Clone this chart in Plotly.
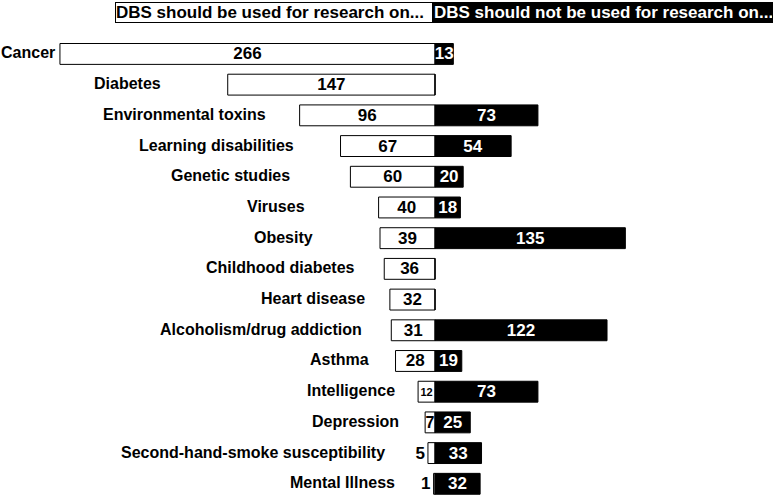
import plotly.graph_objs as go

categories = ['Cancer', 'Diabetes', 'Environmental toxins', 'Learning disabilities',
              'Genetic studies', 'Viruses', 'Obesity', 'Childhood diabetes',
              'Heart disease', 'Alcoholism/drug addiction', 'Asthma', 'Intelligence',
              'Depression', 'Second-hand-smoke susceptibility', 'Mental Illness']
should_values = [266, 147, 96, 67, 60, 40, 39, 36, 32, 31, 28, 12, 7, 5, 1]
should_not_values = [13, 0, 73, 54, 20, 18, 135, 0, 0, 122, 19, 73, 25, 33, 32]
legend_labels = ['DBS should be used for research on...',
                 'DBS should not be used for research on...']

# gap in px between a label and the left end of its white bar
label_gaps = [3, 65, 32, 45, 58, 72, 65, 27, 23, 27, 25, 21, 24, 41, 37]
# value text size for the white bars (small ones are squeezed in)
white_text_sizes = [17, 17, 17, 17, 17, 17, 17, 17, 17, 17, 17, 11, 16, 17, 17]

FONT = 'Liberation Sans'
SIZE = 16
VSIZE = 17


def build_figure():
    white_pos = ['outside' if v < 6 else 'inside' for v in should_values]
    black_text = [str(v) if v > 0 else '' for v in should_not_values]

    white = go.Bar(
        y=categories, x=[-v for v in should_values], orientation='h',
        text=[str(v) for v in should_values], textposition=white_pos,
        insidetextanchor='middle', textangle=0, constraintext='none',
        textfont=dict(family=FONT, size=white_text_sizes, color='black', weight='bold'),
        outsidetextfont=dict(family=FONT, size=VSIZE, color='black', weight='bold'),
        marker=dict(color='white', line=dict(color='black', width=1)),
        width=0.68, hoverinfo='skip', cliponaxis=False
    )
    black = go.Bar(
        y=categories, x=should_not_values, orientation='h',
        text=black_text, textposition='inside',
        insidetextanchor='middle', textangle=0, constraintext='none',
        textfont=dict(family=FONT, size=VSIZE, color='white', weight='bold'),
        marker=dict(color='black', line=dict(color='black', width=1)),
        width=0.68, hoverinfo='skip', cliponaxis=False
    )

    annotations = []
    for cat, v, gap in zip(categories, should_values, label_gaps):
        annotations.append(dict(
            x=-v, y=cat, xref='x', yref='y', text=cat, showarrow=False,
            xanchor='right', yanchor='middle', xshift=-gap, yshift=1,
            font=dict(family=FONT, size=SIZE, color='black', weight='bold')
        ))

    # legend boxes at the top
    annotations.append(dict(
        x=433 / 780, y=1.0385, xref='paper', yref='paper', text=legend_labels[0],
        showarrow=False, xanchor='right', yanchor='middle', align='left',
        width=316, height=19, bgcolor='white', bordercolor='black',
        borderwidth=1, borderpad=0,
        font=dict(family=FONT, size=VSIZE, color='black', weight='bold')
    ))
    annotations.append(dict(
        x=433 / 780, y=1.0385, xref='paper', yref='paper', text=legend_labels[1],
        showarrow=False, xanchor='left', yanchor='middle', align='left',
        width=338, height=19, bgcolor='black', bordercolor='black',
        borderwidth=1, borderpad=0,
        font=dict(family=FONT, size=VSIZE, color='white', weight='bold')
    ))

    figure = go.Figure(
        data=[white, black],
        layout=go.Layout(
            width=780, height=497,
            barmode='overlay',
            showlegend=False,
            plot_bgcolor='white', paper_bgcolor='white',
            margin=dict(l=0, r=0, t=30, b=0),
            xaxis=dict(range=[-435 / 1.41, 345 / 1.41], visible=False, fixedrange=True),
            yaxis=dict(type='category', range=[14.43, -0.78], visible=False, fixedrange=True),
            annotations=annotations,
            font=dict(family=FONT)
        )
    )
    return figure


fig = build_figure()
fig.write_html("out.html", config={'displayModeBar': False},
               post_script="document.body.style.margin='0';")
